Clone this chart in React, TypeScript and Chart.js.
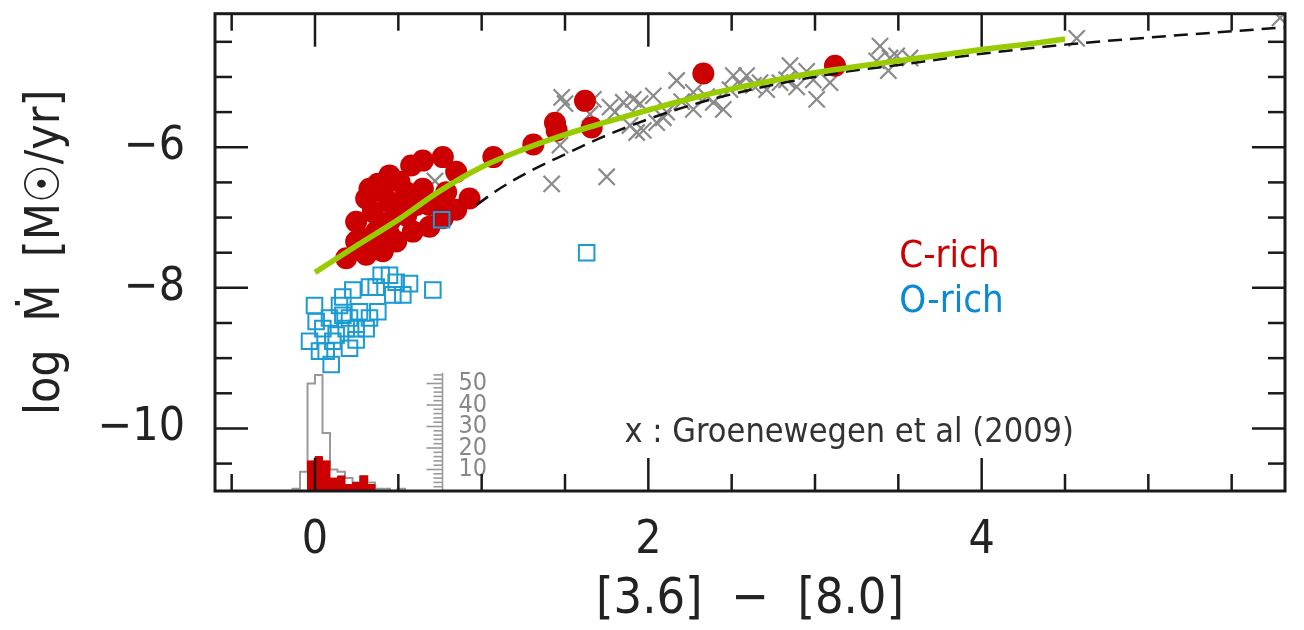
import React, { useEffect, useRef } from "react";
import { Chart, registerables } from "chart.js";

Chart.register(...registerables);

// ---------- axis ranges & ticks ----------
const X_MIN = -0.6;
const X_MAX = 5.82;
const Y_MIN = -10.89;
const Y_MAX = -4.1;
const HIST_MAX = 222; // histogram count axis (hidden)

const xMajorTicks = [0, 2, 4];
const xMinorTicks = [-0.5, 0, 0.5, 1, 1.5, 2, 2.5, 3, 3.5, 4, 4.5, 5, 5.5];
const yMajorTicks = [-10, -8, -6];
const yMinorTicks = [-10.5, -10, -9.5, -9, -8.5, -8, -7.5, -7, -6.5, -6, -5.5, -5, -4.5];
const histScaleTicks = [2, 4, 6, 8, 10, 12, 14, 16, 18, 20, 22, 24, 26, 28, 30, 32, 34, 36, 38, 40, 42, 44, 46, 48, 50, 52, 54];
const histScaleLabels = [10, 20, 30, 40, 50];
const histScaleX = 0.765;

// ---------- C-rich (red filled circles) ----------
const cRichX = [0.767, 0.647, 0.577, 0.447, 0.377, 0.847, 0.927, 0.847, 0.767, 0.687, 0.587, 0.487, 0.407, 0.307, 0.187, 0.247, 0.307, 0.347, 0.447, 0.547, 0.647, 0.787, 0.547, 0.447, 0.367, 0.287, 0.447, 0.347, 0.687, 0.767, 0.327, 0.507, 0.407, 0.247, 0.607, 0.507,
  1.07, 1.31, 1.44, 1.45, 1.62, 1.66, 2.33, 3.12];
const cRichY = [-6.14, -6.19, -6.26, -6.40, -6.52, -6.35, -6.73, -6.89, -7.01, -7.13, -7.20, -7.34, -7.48, -7.53, -7.58, -7.06, -6.73, -6.92, -6.78, -6.64, -6.59, -6.64, -6.97, -7.06, -7.20, -7.30, -7.25, -7.44, -6.82, -6.78, -6.59, -6.49, -6.64, -7.34, -6.82, -6.82,
  -6.14, -5.96, -5.65, -5.76, -5.34, -5.72, -4.95, -4.84];

// ---------- O-rich (blue open squares) ----------
const oRichX = [0.707, 0.567, 0.527, 0.467, 0.447, 0.397, 0.367, 0.327, 0.227, 0.167, 0.377, 0.327, -0.003, 0.147, 0.087, 0.207, 0.267, 0.307, 0.187, 0.047, -0.033, 0.027, 0.097, 0.107, 0.247, 0.207, 0.067, 0.007, 0.127, 0.247, 0.167, 0.487,
  0.76, 1.63];
const oRichY = [-8.03, -7.94, -8.10, -8.10, -7.82, -7.82, -7.99, -7.99, -8.03, -8.13, -8.34, -8.43, -8.25, -8.25, -8.43, -8.43, -8.34, -8.58, -8.58, -8.58, -8.76, -8.90, -9.09, -8.76, -8.74, -8.86, -8.90, -8.48, -8.67, -8.58, -8.39, -7.92,
  -7.03, -7.50];

// ---------- Groenewegen et al (2009) (grey crosses) ----------
const groenX = [0.72, 1.42, 1.75, 1.47, 1.48, 1.50, 1.67, 1.65, 1.77, 1.85, 1.91, 1.95, 1.89, 1.93, 1.97, 2.03, 2.05, 2.09, 2.11, 2.17, 2.27, 2.27, 2.39, 2.45, 2.49, 2.51, 2.59, 2.63, 2.67, 2.71, 2.79, 2.83, 2.85, 2.89, 2.99, 3.01, 3.09, 3.37, 3.39, 3.44, 3.45, 3.49, 3.57, 4.57, 5.79, 2.95, 2.55, 2.35, 1.80, 2.20];
const groenY = [-6.48, -6.52, -6.42, -5.97, -5.29, -5.38, -5.32, -5.53, -5.43, -5.36, -5.32, -5.38, -5.69, -5.79, -5.76, -5.27, -5.65, -5.58, -5.50, -5.05, -5.22, -5.46, -5.36, -5.46, -5.18, -4.98, -4.98, -5.12, -5.08, -5.18, -5.08, -5.04, -4.84, -5.14, -5.04, -5.32, -5.08, -4.77, -4.56, -4.91, -4.73, -4.70, -4.73, -4.45, -4.16, -4.92, -5.10, -5.28, -5.50, -5.35];

// ---------- fit curves ----------
const greenX = [0, 0.25, 0.5, 0.75, 1.0, 1.25, 1.5, 1.75, 2.0, 2.25, 2.5, 2.75, 3.0, 3.25, 3.5, 3.75, 4.0, 4.25, 4.5];
const greenY = [-7.78, -7.40, -7.03, -6.62, -6.28, -6.03, -5.82, -5.64, -5.47, -5.31, -5.17, -5.05, -4.94, -4.85, -4.77, -4.69, -4.61, -4.54, -4.46];
const dashX = [0.97, 1.1, 1.3, 1.5, 1.7, 2.0, 2.3, 2.6, 2.9, 3.2, 3.5, 4.0, 4.5, 5.0, 5.5, 5.85];
const dashY = [-6.82, -6.60, -6.33, -6.10, -5.88, -5.60, -5.37, -5.19, -5.04, -4.92, -4.83, -4.67, -4.54, -4.44, -4.35, -4.29];

// ---------- histograms ----------
const histEdges = [-0.135, -0.09, -0.045, 0, 0.045, 0.09, 0.135, 0.18, 0.225, 0.27, 0.315, 0.36, 0.405, 0.45, 0.495, 0.54];
const histAll = [1, 9, 50, 54, 27, 10, 9, 6, 4, 7, 4, 1, 1, 0, 1];
const histCRich = [0, 0, 14, 16, 14, 6, 7, 3, 4, 7, 3, 0, 0, 0, 0];

const FONT = '"DejaVu Sans Condensed", "DejaVu Sans", sans-serif';

function pts(xs: number[], ys: number[]) {
  return xs.map((x, i) => ({ x, y: ys[i] }));
}
function stepPts(edges: number[], counts: number[]) {
  const out = [{ x: edges[0], y: 0 }];
  counts.forEach((c, i) => out.push({ x: edges[i], y: c }));
  out.push({ x: edges[edges.length - 1], y: counts[counts.length - 1] });
  out.push({ x: edges[edges.length - 1], y: 0 });
  return out;
}

const framePlugin = {
  id: "frame",
  afterDatasetsDraw(chart: any) {
    const { ctx, chartArea: a, scales } = chart;
    const xs = scales.x, ys = scales.y, y2 = scales.y2;
    ctx.save();
    const line = (x1: number, y1: number, x2: number, y2p: number) => {
      ctx.beginPath();
      ctx.moveTo(x1, y1);
      ctx.lineTo(x2, y2p);
      ctx.stroke();
    };
    // histogram count scale
    ctx.strokeStyle = "#999";
    ctx.lineWidth = 1.6;
    const hx = xs.getPixelForValue(histScaleX);
    line(hx, y2.getPixelForValue(0), hx, y2.getPixelForValue(55));
    histScaleTicks.forEach((v) => {
      const py = y2.getPixelForValue(v);
      line(hx, py, hx - (v % 10 === 0 ? 16 : 9), py);
    });
    ctx.fillStyle = "#888";
    ctx.font = `25px ${FONT}`;
    ctx.textAlign = "left";
    ctx.textBaseline = "middle";
    histScaleLabels.forEach((v) => ctx.fillText(String(v), hx + 16, y2.getPixelForValue(v)));

    // axis ticks (inward)
    ctx.strokeStyle = "#1a1a1a";
    ctx.lineWidth = 2.5;
    xMinorTicks.forEach((v) => {
      const px = xs.getPixelForValue(v);
      const len = xMajorTicks.includes(v) ? 33 : 17;
      line(px, a.bottom, px, a.bottom - len);
      line(px, a.top, px, a.top + len);
    });
    yMinorTicks.forEach((v) => {
      const py = ys.getPixelForValue(v);
      const len = yMajorTicks.includes(v) ? 33 : 17;
      line(a.left, py, a.left + len, py);
      line(a.right, py, a.right - len, py);
    });
    ctx.lineWidth = 3;
    ctx.strokeRect(a.left, a.top, a.right - a.left, a.bottom - a.top);

    // annotations
    ctx.textBaseline = "alphabetic";
    ctx.font = `38px ${FONT}`;
    ctx.fillStyle = "#cc0000";
    ctx.fillText("C-rich", xs.getPixelForValue(3.506), ys.getPixelForValue(-7.70));
    ctx.fillStyle = "#0b8ad3";
    ctx.fillText("O-rich", xs.getPixelForValue(3.506), ys.getPixelForValue(-8.34));
    ctx.font = `34px ${FONT}`;
    ctx.fillStyle = "#333333";
    ctx.fillText("x : Groenewegen et al (2009)", xs.getPixelForValue(1.857), ys.getPixelForValue(-10.2));
    ctx.restore();
  },
};

export default function App() {
  const ref = useRef<HTMLCanvasElement>(null);
  useEffect(() => {
    const canvas = ref.current;
    if (!canvas) return;
    const fmt = (v: number) => (v < 0 ? "\u2212" + Math.abs(v) : String(v));
    const chart = new Chart(canvas, {
      type: "scatter",
      data: {
        datasets: [
          {
            label: "fit",
            type: "line",
            data: pts(greenX, greenY),
            borderColor: "#99cc00",
            borderWidth: 5.5,
            pointRadius: 0,
            cubicInterpolationMode: "monotone",
            fill: false,
            order: 0,
          } as any,
          {
            label: "model",
            type: "line",
            data: pts(dashX, dashY),
            borderColor: "#111111",
            borderWidth: 2.5,
            borderDash: [14, 8],
            pointRadius: 0,
            cubicInterpolationMode: "monotone",
            fill: false,
            order: 1,
          } as any,
          {
            label: "O-rich",
            data: pts(oRichX, oRichY),
            pointStyle: "rect",
            pointRadius: 11,
            borderColor: "#1b9bd1",
            backgroundColor: "rgba(0,0,0,0)",
            pointBorderWidth: 2,
            order: 2,
          } as any,
          {
            label: "C-rich",
            data: pts(cRichX, cRichY),
            pointStyle: "circle",
            pointRadius: 11,
            borderColor: "#cc0000",
            backgroundColor: "#cc0000",
            pointBorderWidth: 0,
            order: 3,
          } as any,
          {
            label: "Groenewegen",
            data: pts(groenX, groenY),
            pointStyle: "crossRot",
            pointRadius: 11.5,
            borderColor: "#8a8a8a",
            pointBorderWidth: 2.2,
            order: 4,
          } as any,
          {
            label: "hist C",
            type: "line",
            yAxisID: "y2",
            data: stepPts(histEdges, histCRich),
            stepped: "before",
            borderColor: "#cc0000",
            backgroundColor: "#cc0000",
            borderWidth: 1,
            pointRadius: 0,
            fill: "origin",
            order: 5,
          } as any,
          {
            label: "hist all",
            type: "line",
            yAxisID: "y2",
            data: stepPts(histEdges, histAll),
            stepped: "before",
            borderColor: "#999999",
            borderWidth: 2,
            pointRadius: 0,
            fill: false,
            order: 6,
          } as any,
        ],
      },
      options: {
        animation: false,
        responsive: false,
        layout: { padding: { top: 10, right: 19, left: 0, bottom: 0 } },
        plugins: { legend: { display: false }, tooltip: { enabled: false } },
        scales: {
          x: {
            type: "linear",
            min: X_MIN,
            max: X_MAX,
            afterFit: (s: any) => {
              s.height = 139;
              s.paddingLeft = 0;
              s.paddingRight = 0;
            },
            grid: { display: false, drawTicks: false },
            border: { display: false },
            ticks: {
              stepSize: 0.5,
              autoSkip: false,
              maxRotation: 0,
              padding: 22,
              color: "#222",
              font: { family: FONT, size: 46, weight: "300" },
              callback: (v: any) => (Math.abs(v % 2) < 1e-9 ? fmt(v) : ""),
            },
            title: {
              display: true,
              text: "[3.6]  \u2212  [8.0]",
              color: "#222",
              font: { family: FONT, size: 50, weight: "300" },
              padding: { top: 0, bottom: 0 },
            },
          },
          y: {
            type: "linear",
            min: Y_MIN,
            max: Y_MAX,
            afterFit: (s: any) => {
              s.width = 215;
              s.paddingTop = 0;
              s.paddingBottom = 0;
            },
            grid: { display: false, drawTicks: false },
            border: { display: false },
            ticks: {
              stepSize: 0.5,
              autoSkip: false,
              padding: 30,
              color: "#222",
              font: { family: FONT, size: 46, weight: "300" },
              callback: (v: any) => (Math.abs(v % 2) < 1e-9 ? fmt(v) : ""),
            },
            title: {
              display: true,
              text: "log  \u1E40  [M\u2609/yr]",
              color: "#222",
              font: { family: FONT, size: 48, weight: "300" },
              padding: { top: 18, bottom: 0 },
            },
          },
          y2: { type: "linear", display: false, min: 0, max: HIST_MAX },
        },
      } as any,
      plugins: [framePlugin],
    });
    return () => chart.destroy();
  }, []);
  return (
    <div style={{ position: "fixed", left: 0, top: 0, width: 1304, height: 630, background: "#fff" }}>
      <canvas ref={ref} width={1304} height={630} style={{ display: "block" }} />
    </div>
  );
}
